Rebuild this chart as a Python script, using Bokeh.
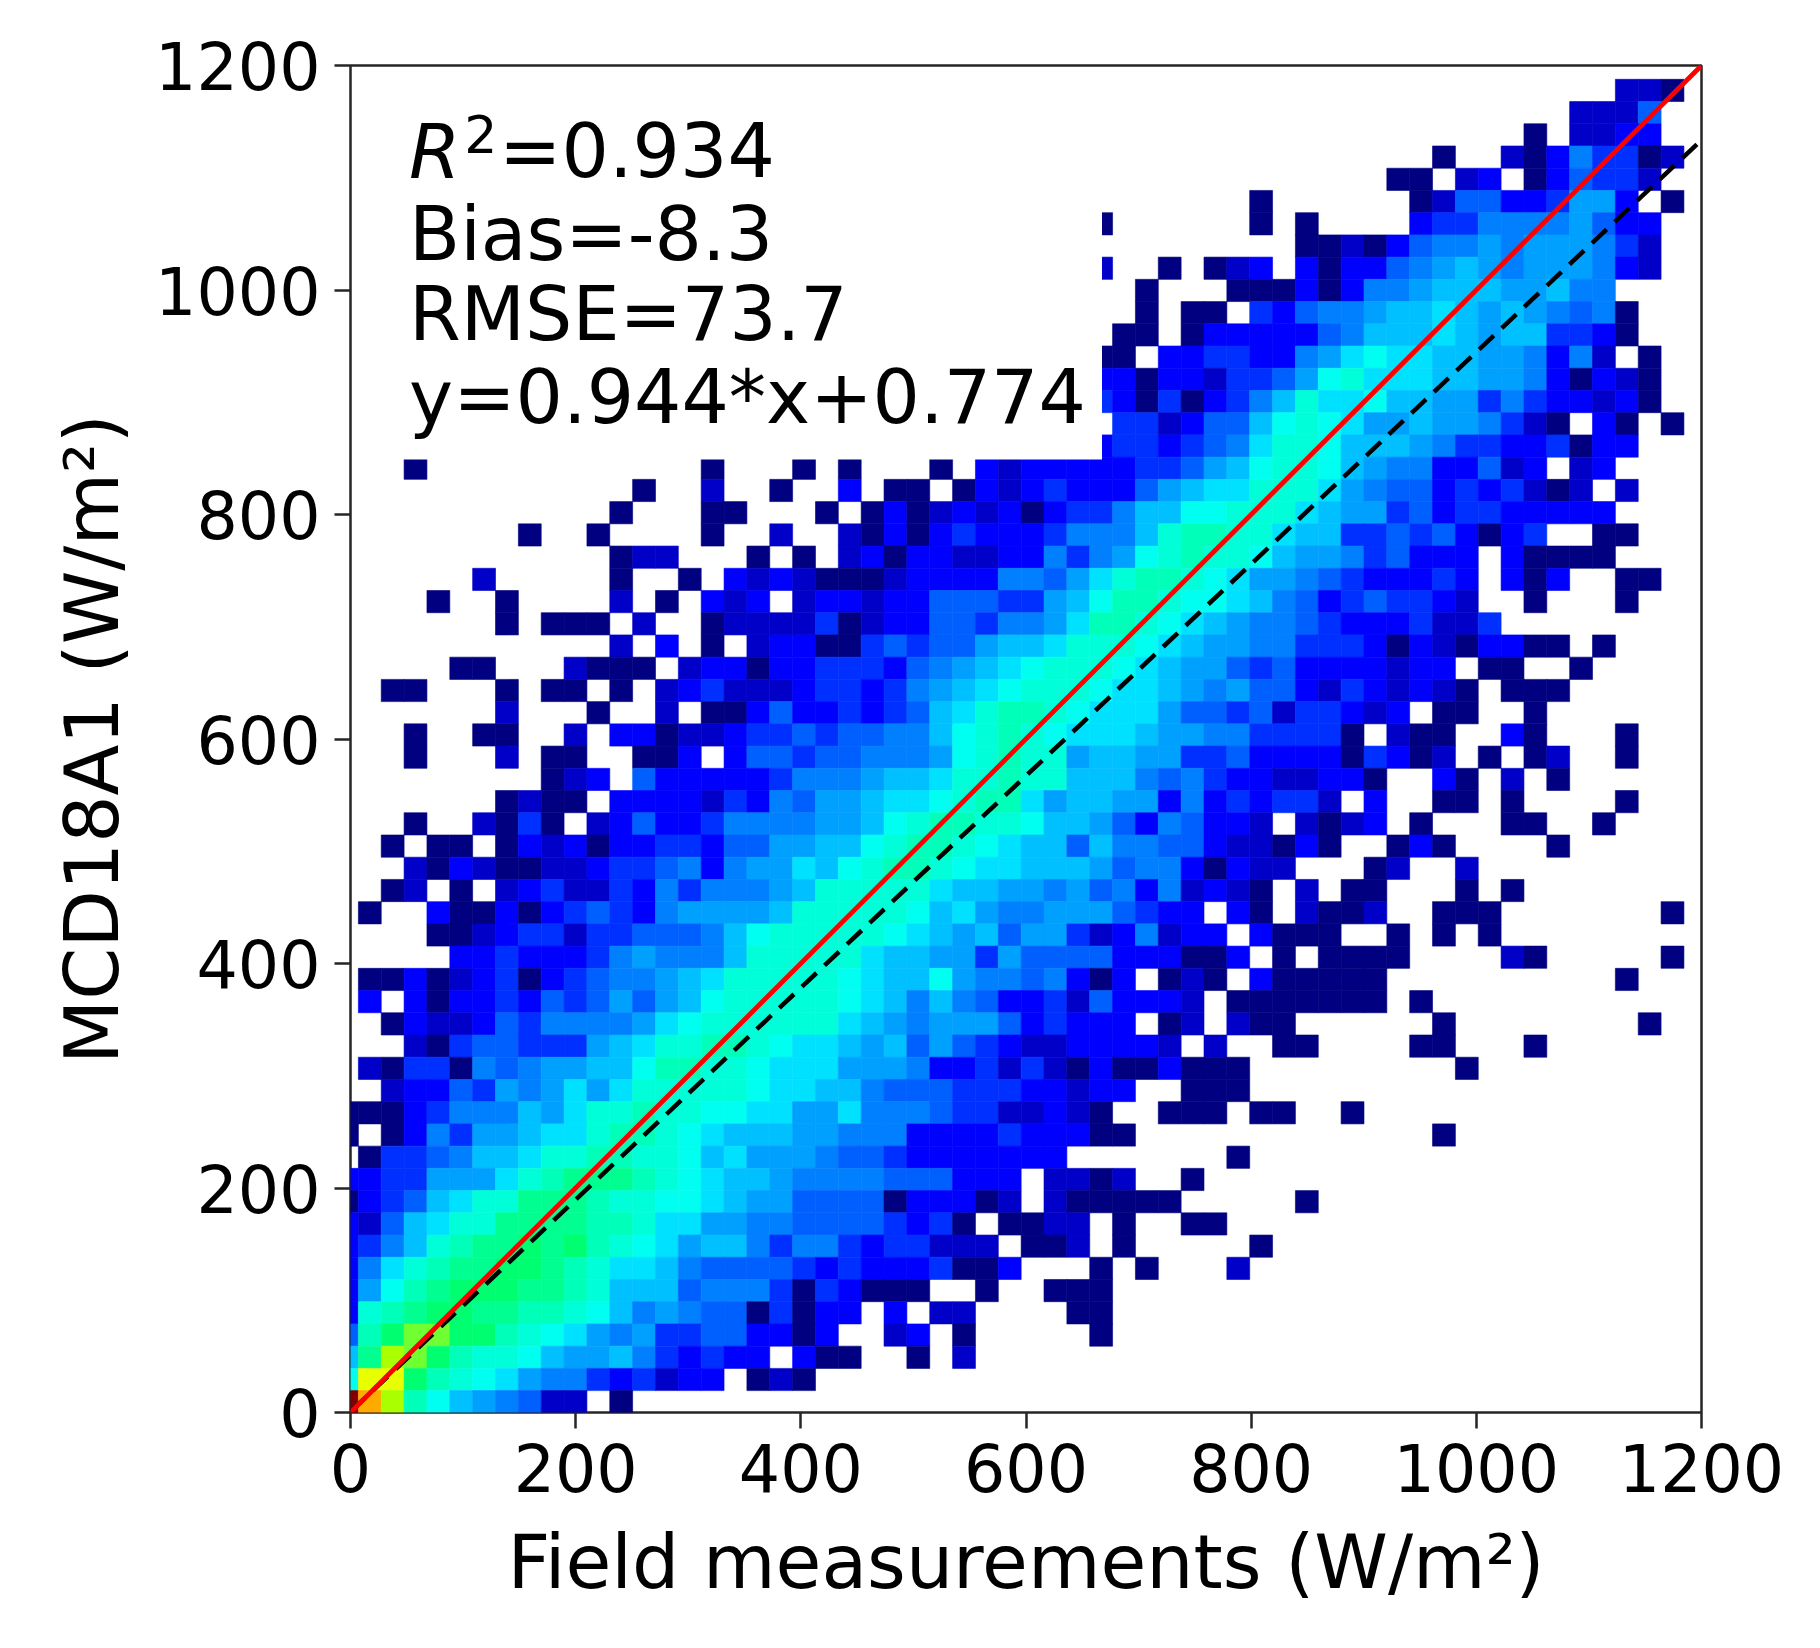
from bokeh.embed import file_html
from bokeh.resources import INLINE
from bokeh.models import (ColumnDataSource, FixedTicker, Label, LinearColorMapper, Range1d)
from bokeh.plotting import figure
from bokeh.transform import transform
import numpy as np

x_label = "Field measurements (W/m²)"
y_label = "MCD18A1 (W/m²)"
tick_values = [0, 200, 400, 600, 800, 1000, 1200]

r2_parts = ["R", "2", "=0.934"]
stat_lines = ["Bias=-8.3", "RMSE=73.7", "y=0.944*x+0.774"]
fit_slope = 0.944
fit_intercept = 0.774
one_to_one = [0, 1200]

# bin layout
x_first_edge, x_bin = 7.0, 20.3
y_first_edge, y_bin = -0.3, 19.8

# colour level of each cell, per row from the top; "left half|right half"
# '.' = empty, 0..9 a..j = colour level
rows_a = [
 "|..........................110",
 "|........................1114",
 "|......................0.1122",
 "|..................0..10253301",
 "|................00.12.024331",
 "|..........0......0144223662.0",
 "|...0......0.0....23355556422",
 "|............0010245565666531",
 "|...1..0.012.2022456765666521",
 "|.....0...00020255677766755",
]
rows_b = [
 "|.....0.00.32455677876765450",
 "|....00.02222245777876773320",
 "|...00.22332256898877665251.0",
 "|...22022133469a8887766520210",
 "|...320302357a889776635322120",
 "|....33124479a98667665310.20.0",
 "|...23323458aa97776533223022",
 "...0............0...0.0...0.21|22222334679aa9765522412.12",
 ".............0..1..0..2.00.021|2322246788aaa865442323101.1",
 "............0...00...0.0201212|023357799aaa87663423322222",
]
rows_c = [
 "........0..0....0..1..10202322|235557abbaa877334342023..00",
 "............011...0.0.12022112|253569abaa9766534222.20000",
 "......1.....0..0.2121000122225|5468abba986654322232.202..00",
 "....0..0....1.0.212.1221224443|3679bba9987542343321..0...0",
 ".......0.000.1..01111301224435|568bba987655432223113",
 "............1.2.0.122003434467|78aaa9876655333202102200.0",
 ".....00...1000.122022333245678|9aaa987664342222122.00..0",
 "..00...0.00.0.1231112332356789|aaa98876564421321210.000",
 ".......1...0..1.002422323478ab|ba988864434133212.00..0",
 "...0..00..1.2201123343445579ab|a98887665533330.100..20...0",
]
rows_d = [
 "...0...1.00..002.24434455569ab|aa67766334222203201.0.01..0",
 ".........012.42222235556778aab|aa77754532211220..20.1.0",
 ".......0100.222213254667889abb|86776625232331.2..00.0....0",
 "...0..1030.12422355556679abbaa|97764254221.1012.0...00..0",
 "..0.00.02120223324466779abba98|77475544211020..020....0",
 "...10210011233452566879abba988|777645520211...01..1",
 "..01.0.12311325355567aaaaa8776|65645251210.1.00...0.0",
 ".0..2002023432566667aaaaa97865|56664322.20.1001..000.......0",
 "....001233133444579aaaaa987674|663125122.2000..0.0.0",
 ".....2232223565557aaaaa8776636|4444222002.0.0000....10.....0",
]
rows_e = [
 ".0020123023455678aaaaa98779655|45202.010.200000..........0",
 ".2.20223243464679aaaaa98757542|23142221.0000000.0",
 "..02112435555689aaaaaa87656664|23222.01.100......0........0",
 "...10344333678aabba98876746432|1122221.1..00....00...0",
 ".1033054566779bbaa988866652231|3102002000.........0",
 "..12243656868aaaaa988775444333|22122..000",
 "00023555768aabaa99886685554331|1210..000.00..0",
 "0.025366788abba987776655522223|22200.............0",
 ".03345778aabbaa978666544322222|22.......0",
 "22336668abcccba987765555444222|.1101..0",
]
rows_f = [
 "023478aacccbaa9987664444022201|.100000.....0",
 "21478aaccccbba88665544443230.0|011.0..00",
 "2357abccdcdba9867753553233111.|001.0.....0",
 "258abccddcba887544443232223002|...0.0...1",
 "269bcdddccba77745553032000..0.|.000",
 "2abcddccbba975654403022.2.11..|..00",
 "4bdeeddba9865633442202..12.0..|...0",
 "7cfedbaa97667532322.200..0.1..|",
 "9ggdba98655323122.010|",
 "jhfb9765411.0|",
]

palette = ["#000080", "#0000C8", "#0000FF", "#0030FF", "#0060FF", "#0080FF", "#00A0FF",
           "#00C0FF", "#00E0FF", "#00FFF0", "#00FFD8", "#00FFB8", "#00FF90", "#00FF70",
           "#70FF30", "#AAFF00", "#E8FF00", "#FFAA00", "#FF0000", "#800000"]

ink = "#000000"
frame = "#262626"

x0, x1, y0, y1, level = [], [], [], [], []
all_rows = rows_a + rows_b + rows_c + rows_d + rows_e + rows_f
for t, text in enumerate(all_rows):
    j = len(all_rows) - 1 - t
    left, right = text.split("|")
    cells = left.ljust(30, ".") + right.ljust(30, ".")
    for c, ch in enumerate(cells):
        if ch == ".":
            continue
        x0.append(max(0.0, x_first_edge + x_bin * (c - 1)))
        x1.append(x_first_edge + x_bin * c)
        y0.append(max(0.0, y_first_edge + y_bin * j))
        y1.append(y_first_edge + y_bin * (j + 1))
        level.append(int(ch, 36))

source = ColumnDataSource(dict(left=x0, right=x1, bottom=y0, top=y1, level=level))
mapper = LinearColorMapper(palette=palette, low=0, high=len(palette))

p = figure(width=1804, height=1632, output_backend="svg", toolbar_location=None,
           x_range=Range1d(0, 1200), y_range=Range1d(0, 1200),
           min_border_left=350, min_border_right=103, min_border_top=65, min_border_bottom=220,
           background_fill_color="white", border_fill_color="white")
p.grid.visible = False
p.outline_line_color = frame
p.outline_line_width = 2.5

p.quad(left="left", right="right", bottom="bottom", top="top", source=source,
       fill_color=transform("level", mapper), line_color=transform("level", mapper), line_width=0.6)

# the opaque white box behind the statistics text
p.quad(left=[20], right=[667.5], bottom=[849], top=[1165], fill_color="white", line_color=None)

xs = np.array(one_to_one, dtype=float)
p.line(xs, xs * fit_slope + fit_intercept, line_color="black", line_width=4.5, line_dash=[20, 11])
p.line(xs, xs, line_color="red", line_width=4.8)

for ax, label, standoff in ((p.xaxis[0], x_label, 24), (p.yaxis[0], y_label, 16)):
    ax.ticker = FixedTicker(ticks=tick_values)
    ax.axis_label = label
    ax.axis_label_text_font = "DejaVu Sans"
    ax.axis_label_text_font_size = "74.5px"
    ax.axis_label_text_font_style = "normal"
    ax.axis_label_text_color = ink
    ax.major_label_text_font = "DejaVu Sans"
    ax.major_label_text_font_size = "65px"
    ax.major_label_text_color = ink
    ax.major_tick_in = 0
    ax.major_tick_out = 16
    ax.major_tick_line_width = 2.5
    ax.major_tick_line_color = frame
    ax.minor_tick_line_color = None
    ax.axis_line_color = None
    ax.major_label_standoff = 14
    ax.axis_label_standoff = standoff

p.add_layout(Label(x=52, y=1123, text=r2_parts[0], text_font="DejaVu Sans", text_font_size="74px",
                   text_font_style="italic", text_color=ink, text_baseline="alphabetic"))
p.add_layout(Label(x=101, y=1139, text=r2_parts[1], text_font="DejaVu Sans", text_font_size="52px",
                   text_color=ink, text_baseline="alphabetic"))
p.add_layout(Label(x=132, y=1123, text=r2_parts[2], text_font="DejaVu Sans", text_font_size="74.5px",
                   text_color=ink, text_baseline="alphabetic"))
for line, y in zip(stat_lines, [1049, 978, 904]):
    p.add_layout(Label(x=52, y=y, text=line, text_font="DejaVu Sans", text_font_size="74.5px",
                       text_color=ink, text_baseline="alphabetic"))

open("out.html", "w").write(file_html(p, INLINE))
